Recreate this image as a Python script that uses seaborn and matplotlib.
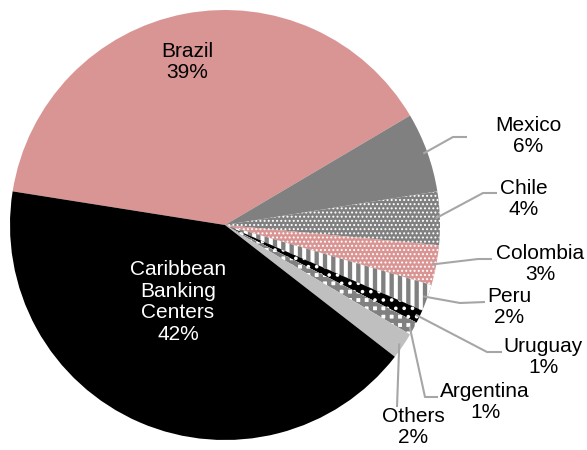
import numpy as np
import matplotlib
matplotlib.use("Agg")
import matplotlib.pyplot as plt
import seaborn as sns

sns.set_theme(style="white")
plt.rcParams['font.family'] = ['Liberation Sans', 'DejaVu Sans']

# ---- data ----
regions = ["Brazil", "Mexico", "Chile", "Colombia", "Peru", "Uruguay",
           "Argentina", "Others", "Caribbean\nBanking\nCenters"]
shares = [39, 6, 4, 3, 2, 1, 1, 2, 42]
pct_labels = ["39%", "6%", "4%", "3%", "2%", "1%", "1%", "2%", "42%"]

# ---- styles ----
face = ["#d99594", "#808080", "#808080", "#d99594", "#808080", "#000000",
        "#ffffff", "#bfbfbf", "#000000"]
hatch_col = ["#d99594", "#808080", "#ffffff", "#ffffff", "#ffffff", "#ffffff",
             "#808080", "#bfbfbf", "#000000"]
hatches = [None, None, "....", "....", "||", "..", "++", None, None]
hatch_lw = [1, 1, 0.9, 0.9, 2.9, 1.4, 3.2, 1, 1]

W, H = 587, 450
CX, CY, R = 225, 225, 215   # pixel centre / radius of pie

fig = plt.figure(figsize=(W / 100, H / 100), dpi=100)
ax = fig.add_axes([(CX - R) / W, (H - CY - R) / H, 2 * R / W, 2 * R / H])

wedges, _ = ax.pie(shares, startangle=171, counterclock=False, radius=1,
                   colors=face, wedgeprops=dict(linewidth=0))
for w, ec, h, hl in zip(wedges, hatch_col, hatches, hatch_lw):
    w.set_edgecolor(ec)
    w.set_linewidth(0)
    if h:
        w.set_hatch(h)
        try:
            w.set_hatch_linewidth(hl)
        except AttributeError:
            w._hatch_linewidth = hl

ax.set_xlim(-1, 1)
ax.set_ylim(-1, 1)
ax.set_aspect('equal')
ax.axis('off')


def px(x, y):
    return (x - CX) / R, (CY - y) / R


fs = 15
ls = 1.17
# inside labels
inside_pos = {0: (187, 62), 8: (178, 302)}
for i, (x, y) in inside_pos.items():
    tx, ty = px(x, y)
    ax.text(tx, ty, f"{regions[i]}\n{pct_labels[i]}", ha='center', va='center',
            fontsize=fs, color='white' if face[i] == "#000000" else 'black',
            linespacing=ls)

# outside labels: (text centre, elbow, end of leader)
outside = {
    1: ((528, 136), (453, 137), (467, 137)),
    2: ((524, 199), (483, 193), (497, 193)),
    3: ((540, 264), (478, 259), (492, 259)),
    4: ((509, 307), (460, 303), (485, 302)),
    5: ((543, 357), (487, 352), (502, 352)),
    6: ((485, 402), (425, 397), (438, 397)),
    7: ((413, 427), (397, 407), (397, 407)),
}
for i, (tpos, elbow, end) in outside.items():
    w = wedges[i]
    mid = np.deg2rad((w.theta1 + w.theta2) / 2)
    sx, sy = 0.98 * np.cos(mid), 0.98 * np.sin(mid)
    ex, ey = px(*elbow)
    fx, fy = px(*end)
    ax.plot([sx, ex, fx], [sy, ey, fy], color="#a6a6a6", lw=1.5,
            clip_on=False, solid_capstyle='butt')
    tx, ty = px(*tpos)
    ax.text(tx, ty, f"{regions[i]}\n{pct_labels[i]}", ha='center', va='center',
            fontsize=fs, color='black', linespacing=ls)

fig.savefig("out.png", dpi=100, facecolor='white')
